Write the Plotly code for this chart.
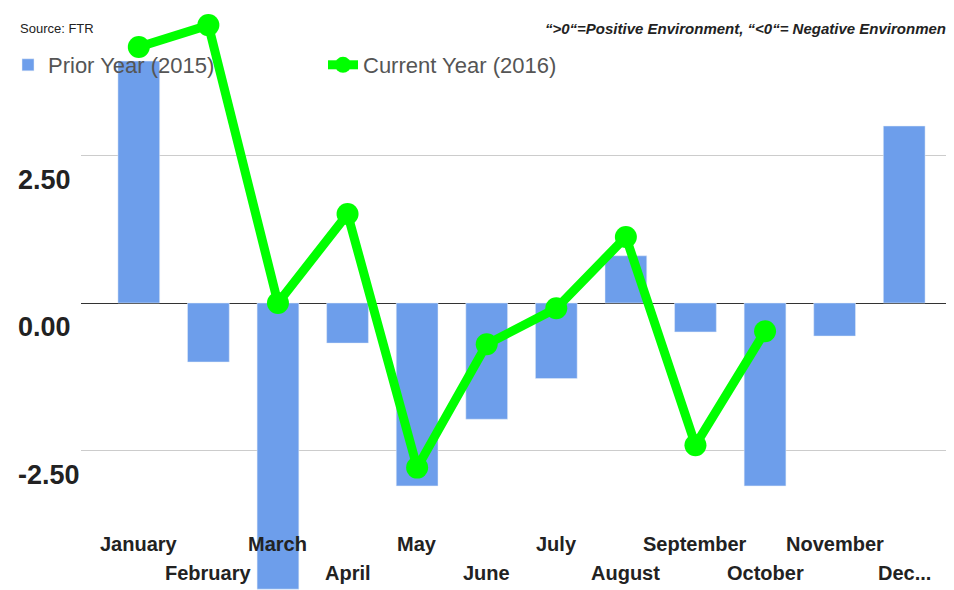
import plotly.graph_objects as go

months = ["January", "February", "March", "April", "May", "June", "July",
          "August", "September", "October", "November", "Dec..."]
prior_2015 = [4.1, -1.0, -4.85, -0.68, -3.1, -1.97, -1.28, 0.8, -0.49, -3.1, -0.56, 3.0]
current_2016 = [4.34, 4.71, 0.0, 1.51, -2.79, -0.70, -0.09, 1.12, -2.41, -0.48, None, None]
ytick_vals = [2.5, 0.0, -2.5]
ytick_text = ["2.50", "0.00", "-2.50"]

W, H, L = 954, 590, 73

fig = go.Figure()
fig.add_trace(go.Bar(x=months, y=prior_2015, name="Prior Year (2015)",
                     marker_color="#6d9eeb", width=0.6))
fig.add_trace(go.Scatter(x=months, y=current_2016, name="Current Year (2016)",
                         mode="lines+markers",
                         line=dict(color="#00ff00", width=9),
                         marker=dict(color="#00ff00", size=22)))

ann = []
for v, t in zip(ytick_vals, ytick_text):
    ann.append(dict(x=8 / W, xref="paper", y=v, yref="y", text="<b>%s</b>" % t,
                    showarrow=False, xanchor="left", yanchor="middle", yshift=-24,
                    font=dict(size=27, color="#222", family="Liberation Sans")))
for i, m in enumerate(months):
    ypix = 536 if i % 2 == 0 else 565
    ann.append(dict(x=i, xref="x", y=1 - ypix / H, yref="paper",
                    text="<b>%s</b>" % m, showarrow=False, xanchor="center", yanchor="middle",
                    font=dict(size=20, color="#222", family="Liberation Sans")))
ann.append(dict(x=10 / W, xref="paper", y=1 - 21 / H, yref="paper", text="Source: FTR",
                showarrow=False, xanchor="left", yanchor="middle",
                font=dict(size=13, color="#222", family="Liberation Sans")))
ann.append(dict(x=1 - 8 / W, xref="paper", y=1 - 20 / H, yref="paper",
                text="<b><i>\u201c>0\u201c=Positive Environment, \u201c<0\u201c= Negative Environment</i></b>",
                showarrow=False, xanchor="right", yanchor="middle",
                font=dict(size=15, color="#222", family="Liberation Sans")))

fig.update_layout(
    width=W, height=H, margin=dict(l=0, r=0, t=0, b=0, autoexpand=False),
    plot_bgcolor="white", paper_bgcolor="white",
    showlegend=True,
    legend=dict(orientation="h", x=0, y=1 - 57 / H, xanchor="left", yanchor="middle",
                font=dict(size=22, color="#555", family="Liberation Sans"),
                bgcolor="rgba(0,0,0,0)", entrywidth=270, entrywidthmode="pixels"),
    annotations=ann,
    bargap=0.4,
)
fig.update_xaxes(domain=[L / W, 1], showticklabels=False, showgrid=False, zeroline=False)
fig.update_yaxes(range=[-5, 5], tickvals=[-2.5, 0, 2.5, 5], showticklabels=False,
                 gridcolor="#cccccc", zeroline=True, zerolinecolor="#333", zerolinewidth=1)

fig.write_html("out.html")
